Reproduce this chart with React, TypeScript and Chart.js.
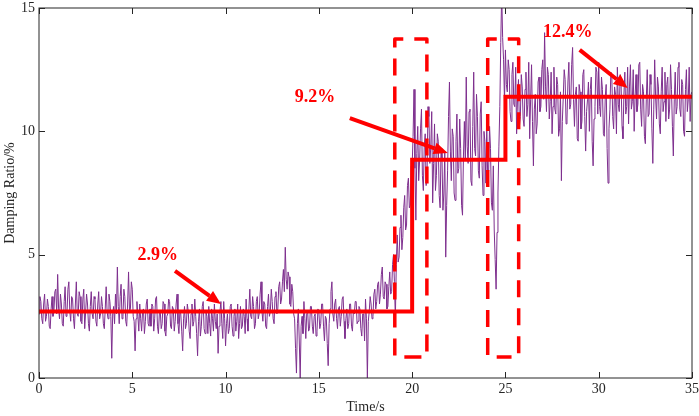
import { useEffect, useRef } from "react";
import { Chart, registerables } from "chart.js";

Chart.register(...registerables);

const sampleStep = 0.05;
const dampingRatio = [
  2.6, 3.3, 3.1, 2.4, 2.2, 3.0, 3.4, 2.3, 2.5, 3.2, 2.9, 2.1, 2.0, 2.8, 3.3, 2.5, 2.7, 3.5, 3.6, 2.6,
  4.2, 2.8, 2.4, 3.4, 3.0, 2.2, 2.1, 3.1, 3.7, 2.5, 2.6, 3.6, 3.9, 2.7, 2.3, 3.3, 3.2, 2.4, 2.0, 3.0,
  3.9, 2.6, 2.5, 3.5, 3.3, 2.3, 2.2, 3.2, 3.6, 2.0, 2.7, 3.4, 3.0, 2.2, 1.9, 2.9, 3.5, 2.6, 2.4, 3.3,
  3.2, 2.3, 2.1, 3.0, 3.5, 2.4, 2.6, 3.3, 2.9, 2.2, 2.0, 2.8, 3.7, 2.7, 2.4, 3.4, 3.1, 2.5, 0.8, 2.6,
  2.9, 2.2, 3.4, 2.6, 4.5, 2.9, 2.2, 3.3, 3.8, 2.4, 2.5, 3.6, 3.3, 2.3, 2.1, 3.0, 4.3, 2.7, 2.8, 3.9,
  3.6, 2.5, 2.3, 1.1, 2.4, 3.1, 2.5, 1.9, 3.0, 2.4, 1.9, 2.7, 2.8, 1.8, 2.3, 3.0, 3.2, 2.2, 2.1, 2.8,
  2.1, 3.0, 2.9, 1.9, 2.4, 3.2, 3.3, 2.1, 1.8, 2.6, 2.7, 2.0, 2.2, 3.1, 3.0, 1.9, 1.7, 2.5, 2.6, 3.2,
  3.1, 2.1, 2.0, 2.9, 2.8, 1.9, 2.3, 3.0, 3.4, 2.2, 1.8, 2.7, 2.6, 1.9, 1.1, 2.4, 2.9, 2.0, 2.2, 3.0,
  2.7, 1.9, 1.6, 2.6, 3.0, 2.1, 2.3, 3.2, 2.5, 1.8, 0.9, 2.3, 2.8, 1.7, 2.1, 2.9, 3.1, 2.0, 1.8, 2.7,
  2.5, 1.8, 2.9, 2.2, 1.7, 2.8, 2.4, 1.9, 3.0, 2.3, 2.0, 2.6, 1.0, 2.1, 2.7, 3.1, 2.2, 1.6, 3.1, 2.4,
  1.3, 2.2, 2.6, 1.8, 2.0, 2.9, 3.0, 2.1, 1.7, 2.5, 2.8, 1.9, 2.3, 3.0, 1.6, 2.2, 2.9, 2.0, 2.1, 2.8,
  2.5, 1.8, 3.2, 2.4, 1.9, 2.8, 3.6, 2.5, 2.4, 3.3, 2.9, 2.0, 2.2, 3.1, 3.3, 2.4, 2.6, 3.4, 3.9, 2.7,
  2.3, 3.1, 3.0, 2.1, 2.0, 2.9, 3.4, 2.5, 2.7, 3.6, 3.1, 2.4, 2.2, 3.3, 3.5, 2.6, 2.8, 3.7, 3.9, 3.0,
  3.2, 3.9, 4.4, 3.5, 5.3, 4.0, 3.6, 4.3, 4.1, 3.0, 2.9, 3.8, 3.5, 2.6, 2.4, 1.2, 0.2, 2.2, 2.8, 1.5,
  0.0, 2.1, 2.5, 1.8, 3.1, 2.4, 1.6, 2.6, 2.7, 1.9, 2.0, 2.9, 2.9, 2.1, 1.8, 2.5, 2.6, 1.7, 1.9, 2.8,
  2.7, 2.0, 2.2, 3.0, 3.0, 2.1, 1.5, 2.5, 2.4, 1.4, 0.5, 2.2, 2.8, 3.5, 3.9, 2.6, 2.3, 3.0, 3.2, 2.4,
  2.0, 2.8, 2.9, 2.1, 2.5, 3.2, 3.3, 2.3, 1.6, 2.4, 2.8, 2.0, 2.2, 3.0, 3.0, 2.1, 1.9, 2.7, 2.6, 3.1,
  3.1, 2.2, 2.3, 2.9, 2.8, 2.0, 1.7, 2.6, 2.6, 1.5, 3.2, 2.4, 0.0, 2.3, 2.7, 3.3, 3.0, 2.4, 2.5, 3.4,
  3.6, 2.8, 3.1, 3.8, 3.9, 3.0, 3.4, 4.2, 4.5, 3.3, 3.2, 3.9, 3.8, 2.8, 2.9, 3.7, 4.3, 3.4, 3.5, 4.6,
  5.0, 3.9, 2.4, 4.6, 5.8, 4.7, 4.9, 6.1, 6.6, 5.2, 5.7, 6.9, 7.4, 6.0, 6.2, 7.8, 8.1, 6.9, 7.0, 8.6,
  8.6, 9.8, 11.7, 8.5, 6.4, 9.1, 10.2, 8.0, 8.8, 10.1, 10.9, 8.2, 7.6, 9.4, 9.9, 7.8, 8.3, 11.0, 10.6, 8.7,
  9.4, 10.8, 7.1, 8.7, 10.3, 7.6, 8.2, 9.9, 9.6, 7.4, 6.9, 9.3, 8.9, 6.8, 7.5, 9.2, 4.9, 7.0, 8.4, 10.6,
  12.0, 9.2, 8.0, 10.1, 9.8, 7.5, 7.2, 9.6, 10.7, 8.3, 8.5, 10.5, 9.3, 7.0, 6.6, 9.0, 10.4, 8.8, 12.2, 9.4,
  8.7, 10.8, 10.9, 8.0, 7.8, 10.2, 12.4, 9.3, 9.0, 11.5, 10.6, 8.4, 8.1, 10.7, 11.2, 8.6, 7.4, 10.0, 9.6, 7.9,
  10.3, 8.1, 8.4, 10.2, 9.3, 7.1, 6.8, 8.6, 6.0, 4.8, 3.6, 5.9, 7.5, 9.4, 11.0, 13.6, 15.6, 13.8, 12.9, 11.2,
  13.3, 11.9, 11.6, 12.9, 12.5, 10.8, 10.4, 12.3, 12.8, 11.1, 11.0, 12.6, 9.9, 11.4, 12.1, 10.2, 10.6, 12.3, 11.8, 10.5,
  10.2, 11.7, 12.4, 10.6, 11.1, 12.8, 9.7, 11.3, 12.7, 10.4, 8.6, 10.9, 11.5, 9.9, 10.3, 12.0, 12.2, 10.8, 11.0, 12.5,
  12.9, 11.3, 14.0, 11.8, 10.8, 12.6, 12.3, 10.5, 11.2, 12.4, 9.9, 11.0, 12.6, 10.9, 10.7, 12.2, 11.9, 9.8, 10.1, 11.6,
  8.0, 10.4, 11.4, 12.5, 12.1, 10.3, 10.5, 12.0, 12.8, 10.9, 11.1, 12.7, 13.4, 11.3, 10.2, 11.5, 11.8, 9.7, 9.6, 11.9,
  11.6, 10.1, 10.4, 12.3, 12.5, 10.6, 9.2, 10.8, 11.3, 12.0, 10.0, 11.7, 12.2, 9.6, 8.6, 10.5, 11.0, 12.6, 12.4, 10.7,
  12.8, 11.0, 10.6, 12.2, 11.7, 9.9, 9.8, 11.4, 11.9, 9.3, 7.9, 10.1, 10.9, 12.4, 12.3, 10.6, 10.1, 11.8, 11.5, 9.9,
  12.6, 11.1, 10.8, 12.3, 11.9, 10.2, 9.7, 11.5, 12.4, 10.7, 11.0, 12.6, 10.3, 11.8, 12.7, 10.9, 11.2, 12.5, 10.0, 11.4,
  12.3, 10.8, 11.1, 12.7, 12.8, 10.9, 10.2, 11.9, 11.6, 9.8, 9.5, 11.3, 12.5, 10.6, 10.7, 12.3, 11.9, 10.1, 8.7, 10.9,
  12.9, 11.4, 10.5, 12.2, 11.8, 10.3, 9.9, 11.6, 12.6, 10.8, 11.2, 12.4, 10.4, 11.9, 12.2, 10.5, 10.9, 12.7, 11.7, 10.2,
  9.0, 11.3, 12.4, 10.7, 11.0, 12.6, 12.8, 10.9, 10.6, 12.1, 11.9, 10.0, 9.8, 11.7, 12.5, 10.8, 11.3, 12.6, 10.4, 11.5,
  11.6,
];

// identified mean damping per stage
const stepTimes = [0, 20, 20, 25, 25, 35];
const stepLevels = [2.7, 2.7, 8.85, 8.85, 11.4, 11.4];

// dashed transition windows
const windowStarts = [19.07, 24.05];
const windowEnds = [20.79, 25.71];
const windowLow = 0.85;
const windowHigh = 13.74;

// callouts, in data units
const calloutTexts = ["2.9%", "9.2%", "12.4%"];
const calloutTextAt = [[6.37, 4.99], [14.79, 11.39], [28.34, 14.03]];
const calloutFrom = [[7.29, 4.34], [16.66, 10.54], [28.98, 13.3]];
const calloutTo = [[9.75, 3.0], [21.91, 9.12], [31.55, 11.76]];

const xMin = 0, xMax = 35, xStep = 5;
const yMin = 0, yMax = 15, yStep = 5;

const RED = "#ff0000";
const PURPLE = "#7e2f8e";
const AXIS = "#262626";
const SERIF = "'Liberation Serif', 'Times New Roman', serif";

function drawArrow(ctx: CanvasRenderingContext2D, x1: number, y1: number, x2: number, y2: number) {
  const ang = Math.atan2(y2 - y1, x2 - x1);
  const head = 14;
  const half = 6;
  const bx = x2 - head * Math.cos(ang);
  const by = y2 - head * Math.sin(ang);
  ctx.beginPath();
  ctx.moveTo(x1, y1);
  ctx.lineTo(bx, by);
  ctx.stroke();
  ctx.beginPath();
  ctx.moveTo(x2, y2);
  ctx.lineTo(bx + half * Math.sin(ang), by - half * Math.cos(ang));
  ctx.lineTo(bx - half * Math.sin(ang), by + half * Math.cos(ang));
  ctx.closePath();
  ctx.fill();
}

const decorations = {
  id: "decorations",
  afterDatasetsDraw(chart: any) {
    const { ctx, chartArea: a, scales } = chart;
    const x = scales.x;
    const y = scales.y;
    ctx.save();

    // box + inward ticks (matlab style)
    ctx.strokeStyle = AXIS;
    ctx.lineWidth = 1;
    ctx.strokeRect(a.left, a.top, a.right - a.left, a.bottom - a.top);
    const tl = 6;
    ctx.beginPath();
    x.ticks.forEach((t: any) => {
      const px = Math.round(x.getPixelForValue(t.value)) + 0.5;
      ctx.moveTo(px, a.bottom);
      ctx.lineTo(px, a.bottom - tl);
      ctx.moveTo(px, a.top);
      ctx.lineTo(px, a.top + tl);
    });
    y.ticks.forEach((t: any) => {
      const py = Math.round(y.getPixelForValue(t.value)) + 0.5;
      ctx.moveTo(a.left, py);
      ctx.lineTo(a.left + tl, py);
      ctx.moveTo(a.right, py);
      ctx.lineTo(a.right - tl, py);
    });
    ctx.stroke();

    // callouts
    ctx.strokeStyle = RED;
    ctx.fillStyle = RED;
    ctx.lineWidth = 4;
    ctx.lineCap = "butt";
    ctx.font = `bold 18px ${SERIF}`;
    ctx.textAlign = "center";
    ctx.textBaseline = "middle";
    calloutTexts.forEach((txt, i) => {
      ctx.fillText(txt, x.getPixelForValue(calloutTextAt[i][0]), y.getPixelForValue(calloutTextAt[i][1]));
      drawArrow(
        ctx,
        x.getPixelForValue(calloutFrom[i][0]),
        y.getPixelForValue(calloutFrom[i][1]),
        x.getPixelForValue(calloutTo[i][0]),
        y.getPixelForValue(calloutTo[i][1])
      );
    });
    ctx.restore();
  },
};

const App = () => {
  const canvasRef = useRef<HTMLCanvasElement>(null);

  useEffect(() => {
    document.body.style.margin = "0";
    const signal = dampingRatio.map((v, i) => ({ x: +(i * sampleStep).toFixed(2), y: v }));
    const steps = stepTimes.map((t, i) => ({ x: t, y: stepLevels[i] }));
    // start each window at the middle of its bottom edge so the dashes sit like the original
    const windows = windowStarts.map((s, i) => {
      const mid = (s + windowEnds[i]) / 2;
      return {
        label: "window" + i,
        data: [
          { x: mid, y: windowLow },
          { x: s, y: windowLow },
          { x: s, y: windowHigh },
          { x: windowEnds[i], y: windowHigh },
          { x: windowEnds[i], y: windowLow },
          { x: mid, y: windowLow },
        ],
        borderColor: RED,
        borderWidth: 3.5,
        borderDash: [17, 11],
        borderDashOffset: 10.5,
        borderJoinStyle: "round" as const,
        pointRadius: 0,
        fill: false,
      };
    });

    const chart = new Chart(canvasRef.current as HTMLCanvasElement, {
      type: "line",
      data: {
        datasets: [
          {
            label: "stage",
            data: steps,
            borderColor: RED,
            borderWidth: 4,
            pointRadius: 0,
            fill: false,
          },
          ...windows,
          {
            label: "damping",
            data: signal,
            borderColor: PURPLE,
            borderWidth: 1,
            pointRadius: 0,
            tension: 0,
            fill: false,
          },
        ],
      },
      options: {
        animation: false,
        responsive: false,
        devicePixelRatio: 1,
        layout: { padding: { top: 8, right: 7, left: 0, bottom: 0 } },
        plugins: { legend: { display: false }, tooltip: { enabled: false } },
        scales: {
          x: {
            type: "linear",
            min: xMin,
            max: xMax,
            grid: { display: false, drawTicks: false },
            border: { display: false },
            ticks: { stepSize: xStep, padding: 3, color: AXIS, font: { family: SERIF, size: 14 } },
            title: {
              display: true,
              text: "Time/s",
              color: AXIS,
              font: { family: SERIF, size: 14 },
              padding: { top: 0, bottom: 0 },
            },
            afterFit: (s: any) => {
              s.height = 38;
              s.paddingLeft = 0;
              s.paddingRight = 0;
            },
          },
          y: {
            min: yMin,
            max: yMax,
            grid: { display: false, drawTicks: false },
            border: { display: false },
            ticks: { stepSize: yStep, padding: 4, color: AXIS, font: { family: SERIF, size: 14 } },
            title: {
              display: true,
              text: "Damping Ratio/%",
              color: AXIS,
              font: { family: SERIF, size: 14 },
              padding: { top: 2, bottom: 0 },
            },
            afterFit: (s: any) => {
              s.width = 39;
              s.paddingTop = 0;
              s.paddingBottom = 0;
            },
          },
        },
      },
      plugins: [decorations],
    });

    return () => {
      chart.destroy();
    };
  }, []);

  return (
    <div style={{ width: 699, height: 416, background: "#fff" }}>
      <canvas ref={canvasRef} width={699} height={416} />
    </div>
  );
};

export default App;
